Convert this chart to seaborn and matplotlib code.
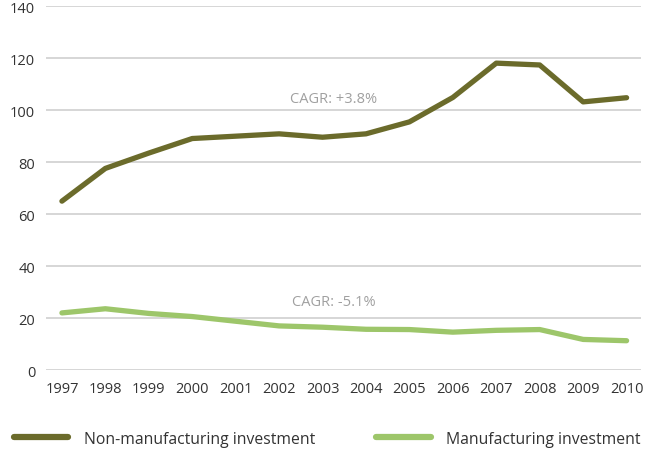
import pandas as pd
import matplotlib.pyplot as plt
import seaborn as sns

sns.set_theme(style="white")
plt.rcParams["font.family"] = ["Open Sans", "DejaVu Sans"]

years = list(range(1997, 2011))
non_manufacturing = [65, 77.6, 83.5, 89.1, 90.0, 90.9, 89.6, 90.9, 95.5, 104.9, 118.1, 117.4, 103.2, 104.8]
manufacturing = [22.0, 23.6, 21.8, 20.6, 18.8, 17.0, 16.5, 15.7, 15.6, 14.6, 15.3, 15.6, 11.8, 11.3]
labels = ["Non-manufacturing investment", "Manufacturing investment"]
colors = ["#6b6b2b", "#9dc66a"]
cagr_text = ["CAGR: +3.8%", "CAGR: -5.1%"]
cagr_pos = [(2003.26, 104.6), (2003.26, 26.5)]

df = pd.DataFrame({
    "year": years * 2,
    "value": non_manufacturing + manufacturing,
    "series": [labels[0]] * len(years) + [labels[1]] * len(years),
})

fig = plt.figure(figsize=(6.52, 4.52), dpi=100)
ax = fig.add_axes([0.071, 0.179, 0.912, 0.805])

sns.lineplot(data=df, x="year", y="value", hue="series", palette=colors,
             linewidth=3.8, ax=ax, legend=False)

for txt, (x, y) in zip(cagr_text, cagr_pos):
    ax.text(x, y, txt, ha="center", va="center", fontsize=10.5, color="#a0a0a0")

ax.set_xlim(1996.64, 2010.33)
ax.set_ylim(0, 140)
ax.set_xticks(years)
ax.set_yticks(range(0, 141, 20))
ax.yaxis.grid(True, color="#cfcfcf", linewidth=1.2)
ax.tick_params(axis="both", labelsize=10.5, colors="#333333", length=0)
ax.tick_params(axis="y", pad=8)
ax.tick_params(axis="x", pad=8)
ax.set_xlabel("")
ax.set_ylabel("")
for s in ax.spines.values():
    s.set_visible(False)

handles = [plt.Line2D([], [], color=c, linewidth=4.5, solid_capstyle="round") for c in colors]
fig.legend(handles, labels, loc="lower left", bbox_to_anchor=(0.0, -0.022), ncol=2,
           frameon=False, fontsize=11.3, handlelength=3.45, handletextpad=1.0,
           columnspacing=3.9, labelcolor="#333333")

plt.savefig("out.png", dpi=100)
plt.close()
